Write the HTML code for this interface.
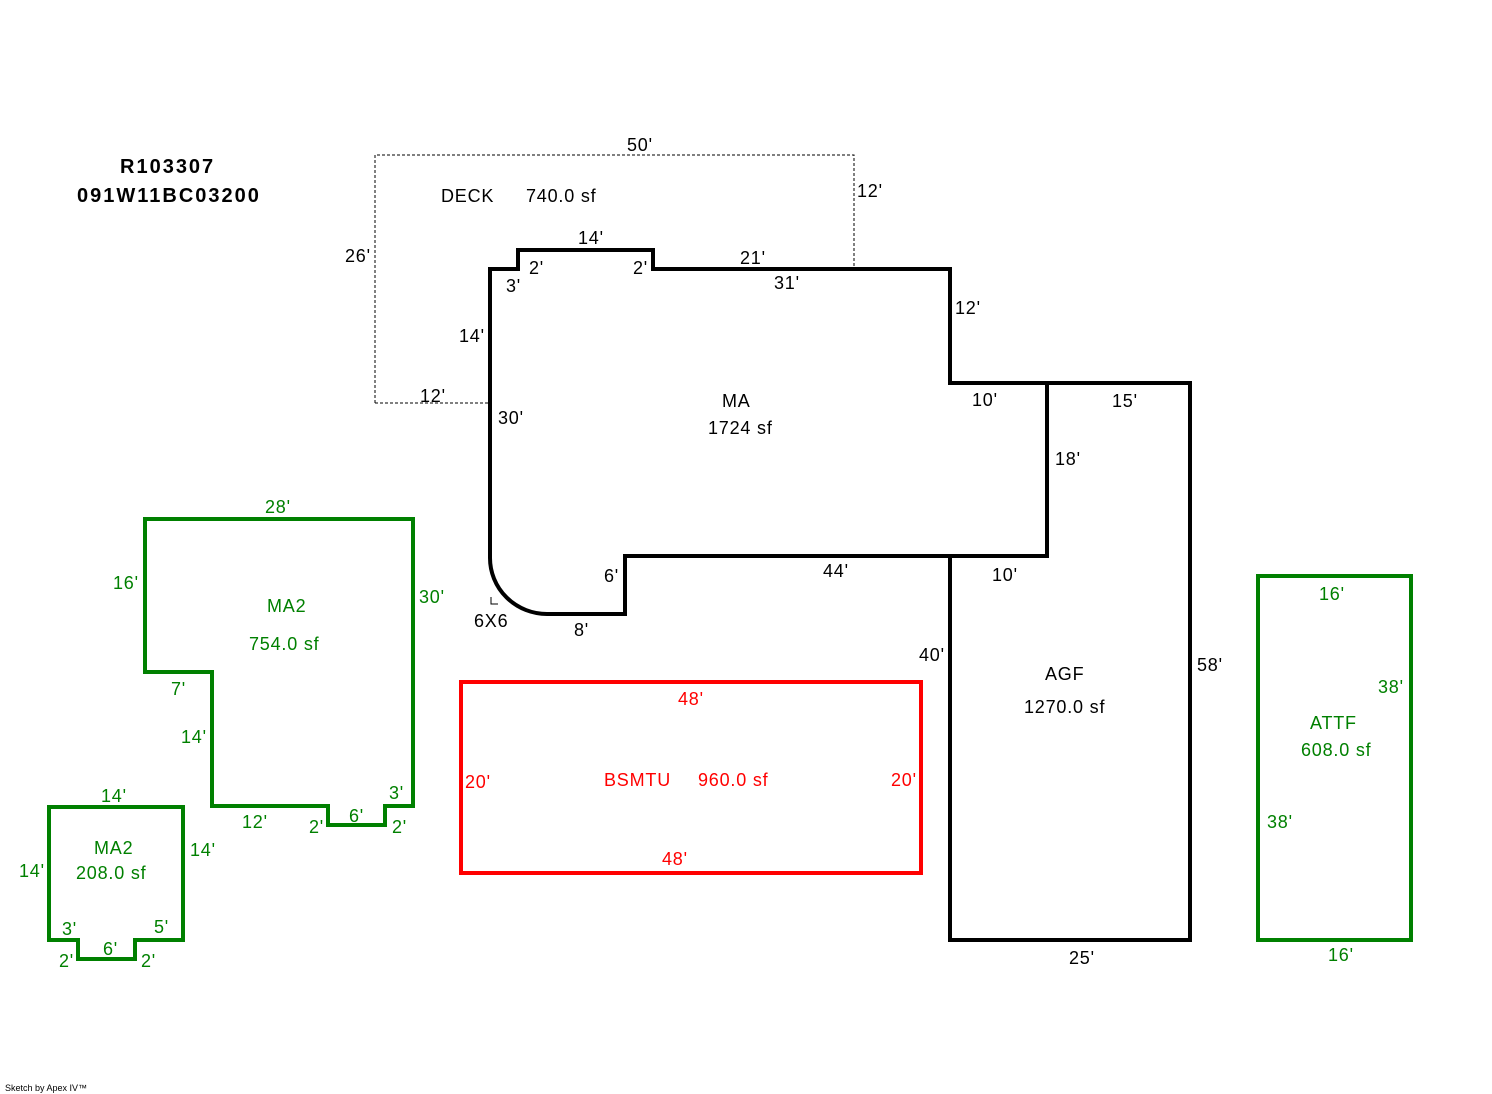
<!DOCTYPE html>
<html><head><meta charset="utf-8"><style>
html,body{margin:0;padding:0;background:#fff;}
svg{display:block;}
text{font-family:"Liberation Sans",Arial,sans-serif;font-size:18px;letter-spacing:0.8px;}
.k{fill:#000}.g{fill:#008000}.r{fill:#f00}
</style></head><body>
<svg width="1492" height="1094" viewBox="0 0 1492 1094" xmlns="http://www.w3.org/2000/svg">
<g fill="none" stroke-linejoin="miter">
<polyline points="375,403 375,155 854,155 854,269" stroke="#000" stroke-width="1" stroke-dasharray="3,2"/>
<line x1="375" y1="403" x2="490" y2="403" stroke="#000" stroke-width="1" stroke-dasharray="3,2"/>
<path d="M490,558 L490,269 L518,269 L518,250 L653,250 L653,269 L950,269 L950,383 L1047,383 L1047,556 L625,556 L625,614 L547,614 A57,56 0 0 1 490,558" stroke="#000" stroke-width="4"/>
<polyline points="1047,383 1190,383 1190,940 950,940 950,556" stroke="#000" stroke-width="4"/>
<polygon points="145,519 413,519 413,806 385,806 385,825 328,825 328,806 212,806 212,672 145,672" stroke="#008000" stroke-width="4"/>
<polygon points="49,807 183,807 183,940 135,940 135,959 78,959 78,940 49,940" stroke="#008000" stroke-width="4"/>
<rect x="461" y="682" width="460" height="191" stroke="#f00" stroke-width="4"/>
<rect x="1258" y="576" width="153" height="364" stroke="#008000" stroke-width="4"/>
<polyline points="491,597 491,604 498,604" stroke="#000" stroke-width="1"/>
</g>
<text class="k" x="120" y="173" style="font-weight:bold;font-size:20px;letter-spacing:2px">R103307</text>
<text class="k" x="77" y="202" style="font-weight:bold;font-size:20px;letter-spacing:2px">091W11BC03200</text>
<text class="k" x="627" y="151">50'</text>
<text class="k" x="857" y="197">12'</text>
<text class="k" x="345" y="262">26'</text>
<text class="k" x="420" y="402">12'</text>
<text class="k" x="441" y="202">DECK</text>
<text class="k" x="526" y="202">740.0 sf</text>
<text class="k" x="578" y="244">14'</text>
<text class="k" x="529" y="274">2'</text>
<text class="k" x="633" y="274">2'</text>
<text class="k" x="506" y="292">3'</text>
<text class="k" x="740" y="264">21'</text>
<text class="k" x="774" y="289">31'</text>
<text class="k" x="955" y="314">12'</text>
<text class="k" x="459" y="342">14'</text>
<text class="k" x="498" y="424">30'</text>
<text class="k" x="722" y="407">MA</text>
<text class="k" x="708" y="434">1724 sf</text>
<text class="k" x="972" y="406">10'</text>
<text class="k" x="1112" y="407">15'</text>
<text class="k" x="1055" y="465">18'</text>
<text class="k" x="823" y="577">44'</text>
<text class="k" x="992" y="581">10'</text>
<text class="k" x="604" y="582">6'</text>
<text class="k" x="474" y="627">6X6</text>
<text class="k" x="574" y="636">8'</text>
<text class="k" x="919" y="661">40'</text>
<text class="k" x="1197" y="671">58'</text>
<text class="k" x="1045" y="680">AGF</text>
<text class="k" x="1024" y="713">1270.0 sf</text>
<text class="k" x="1069" y="964">25'</text>
<text class="g" x="265" y="513">28'</text>
<text class="g" x="113" y="589">16'</text>
<text class="g" x="419" y="603">30'</text>
<text class="g" x="267" y="612">MA2</text>
<text class="g" x="249" y="650">754.0 sf</text>
<text class="g" x="171" y="695">7'</text>
<text class="g" x="181" y="743">14'</text>
<text class="g" x="389" y="799">3'</text>
<text class="g" x="242" y="828">12'</text>
<text class="g" x="349" y="822">6'</text>
<text class="g" x="309" y="833">2'</text>
<text class="g" x="392" y="833">2'</text>
<text class="g" x="101" y="802">14'</text>
<text class="g" x="94" y="854">MA2</text>
<text class="g" x="76" y="879">208.0 sf</text>
<text class="g" x="190" y="856">14'</text>
<text class="g" x="19" y="877">14'</text>
<text class="g" x="62" y="935">3'</text>
<text class="g" x="154" y="933">5'</text>
<text class="g" x="103" y="955">6'</text>
<text class="g" x="59" y="967">2'</text>
<text class="g" x="141" y="967">2'</text>
<text class="r" x="678" y="705">48'</text>
<text class="r" x="465" y="788">20'</text>
<text class="r" x="891" y="786">20'</text>
<text class="r" x="604" y="786">BSMTU</text>
<text class="r" x="698" y="786">960.0 sf</text>
<text class="r" x="662" y="865">48'</text>
<text class="g" x="1319" y="600">16'</text>
<text class="g" x="1378" y="693">38'</text>
<text class="g" x="1310" y="729">ATTF</text>
<text class="g" x="1301" y="756">608.0 sf</text>
<text class="g" x="1267" y="828">38'</text>
<text class="g" x="1328" y="961">16'</text>
<text class="k" x="5" y="1091" style="font-size:9px;letter-spacing:0">Sketch by Apex IV™</text>
</svg>
</body></html>
